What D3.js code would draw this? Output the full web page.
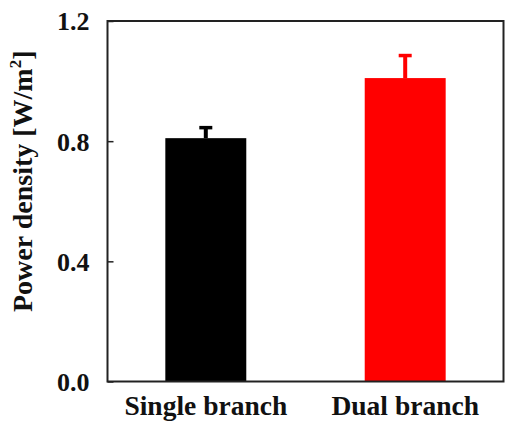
<!DOCTYPE html>
<html><head><meta charset="utf-8">
<script src="https://cdn.jsdelivr.net/npm/d3@7"></script>
<style>html,body{margin:0;padding:0;background:#fff;}svg{display:block;}</style>
</head><body>
<svg id="c" width="505" height="423"></svg>
<script>
const categories = ["Single branch", "Dual branch"];
const values = [0.81, 1.01];
const errors = [0.04, 0.08];
const colors = ["#000000", "#ff0000"];
const yTicks = [0.0, 0.4, 0.8, 1.2];

const svg = d3.select("#c");
const L = 107.5, R = 503.5, T = 21, B = 381.5;
const font = "'Liberation Serif','Times New Roman',serif";

const x = d3.scaleBand().domain(categories).range([L, R]).paddingInner(0.594).paddingOuter(0.29);
const y = d3.scaleLinear().domain([0, 1.2]).range([B, T]);

// bars
svg.selectAll("rect.bar").data(categories).enter().append("rect")
  .attr("x", d => x(d)).attr("width", x.bandwidth())
  .attr("y", (d,i) => y(values[i])).attr("height", (d,i) => y(0) - y(values[i]))
  .attr("fill", (d,i) => colors[i]);

// error bars
const cap = 13;
categories.forEach((c, i) => {
  const cx = x(c) + x.bandwidth()/2;
  svg.append("line").attr("x1", cx).attr("x2", cx)
    .attr("y1", y(values[i])).attr("y2", y(values[i] + errors[i]))
    .attr("stroke", colors[i]).attr("stroke-width", 4);
  svg.append("line").attr("x1", cx - cap/2).attr("x2", cx + cap/2)
    .attr("y1", y(values[i] + errors[i]) + 1.5).attr("y2", y(values[i] + errors[i]) + 1.5)
    .attr("stroke", colors[i]).attr("stroke-width", 3.5);
});

// y axis (inward ticks)
const yAxis = d3.axisLeft(y).tickValues(yTicks).tickFormat(d3.format(".1f")).tickSizeInner(-6).tickSizeOuter(0).tickPadding(18);
const gy = svg.append("g").attr("transform", `translate(${L},0)`).call(yAxis);
gy.select(".domain").remove();
gy.selectAll(".tick line").attr("stroke", "#222").attr("stroke-width", 1.5);
gy.selectAll(".tick text").attr("font-family", font).attr("font-weight", "bold")
  .attr("font-size", 26).attr("fill", "#111").attr("dy", "0.34em");

// x axis labels
const xAxis = d3.axisBottom(x).tickSize(0).tickPadding(14);
const gx = svg.append("g").attr("transform", `translate(0,${B})`).call(xAxis);
gx.select(".domain").remove();
gx.selectAll(".tick text").attr("font-family", font).attr("font-weight", "bold")
  .attr("font-size", 27.5).attr("fill", "#111");

// frame
svg.append("rect").attr("x", L).attr("y", T).attr("width", R - L).attr("height", B - T)
  .attr("fill", "none").attr("stroke", "#222").attr("stroke-width", 2);

// y title
const yt = svg.append("text").attr("transform", `translate(32,${(T+B)/2 - 20}) rotate(-90)`)
  .attr("text-anchor", "middle").attr("font-family", font).attr("font-weight", "bold")
  .attr("font-size", 28).attr("fill", "#111");
yt.append("tspan").text("Power density [W/m");
yt.append("tspan").text("2").attr("font-size", 17).attr("dy", -11);
yt.append("tspan").text("]").attr("dy", 11);
</script>
</body></html>
